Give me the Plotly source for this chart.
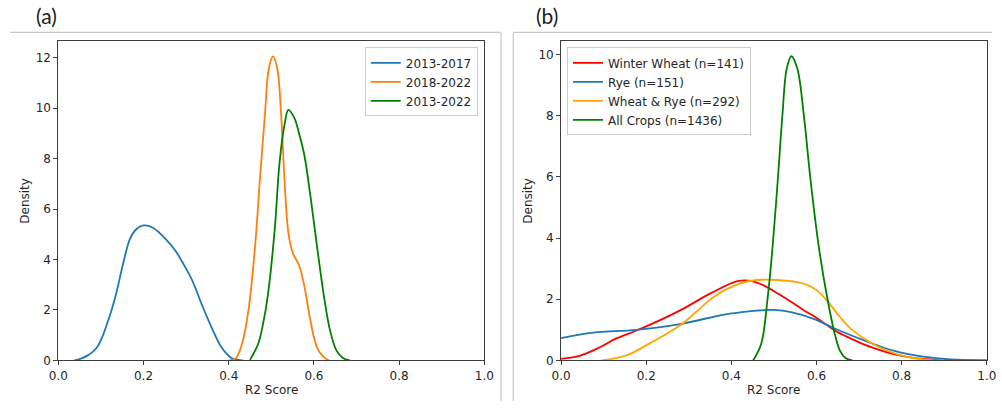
import plotly.graph_objects as go

# ---------------- data ----------------
# Panel (a)
a_labels = ["2013-2017", "2018-2022", "2013-2022"]
a1_x = [0.038, 0.055, 0.068, 0.080, 0.091, 0.103, 0.114, 0.126, 0.137, 0.153, 0.168, 0.183, 0.200,
        0.222, 0.252, 0.275, 0.291, 0.314, 0.337, 0.360, 0.383, 0.406, 0.420, 0.434]
a1_y = [0.0, 0.08, 0.19, 0.33, 0.52, 0.92, 1.43, 2.05, 2.73, 3.90, 4.81, 5.20, 5.35,
        5.26, 4.81, 4.35, 3.90, 3.18, 2.21, 1.30, 0.52, 0.10, 0.03, 0.0]
a2_x = [0.400, 0.416, 0.431, 0.446, 0.462, 0.473, 0.485, 0.494, 0.504, 0.514, 0.523, 0.531, 0.540,
        0.550, 0.565, 0.577, 0.592, 0.607, 0.623, 0.635]
a2_y = [0.0, 0.07, 0.65, 1.95, 4.55, 7.14, 9.74, 11.56, 12.05, 11.56, 9.74, 7.14, 5.06,
        4.28, 3.77, 2.99, 1.56, 0.52, 0.13, 0.0]
a3_x = [0.450, 0.469, 0.480, 0.492, 0.508, 0.519, 0.531, 0.540, 0.554, 0.565, 0.577, 0.592, 0.607,
        0.623, 0.638, 0.653, 0.668, 0.684]
a3_y = [0.02, 0.65, 1.40, 2.60, 5.20, 7.79, 9.35, 9.93, 9.61, 9.00, 8.18, 6.49, 4.55,
        2.60, 1.17, 0.39, 0.10, 0.0]

# Panel (b)
b_labels = ["Winter Wheat (n=141)", "Rye (n=151)", "Wheat & Rye (n=292)", "All Crops (n=1436)"]
b1_x = [0.0, 0.045, 0.091, 0.130, 0.176, 0.230, 0.283, 0.352, 0.414, 0.441, 0.478, 0.510, 0.540,
        0.570, 0.597, 0.625, 0.650, 0.680, 0.708, 0.740, 0.770, 0.800, 0.823, 0.860, 0.892, 0.910]
b1_y = [0.05, 0.16, 0.43, 0.72, 0.97, 1.30, 1.66, 2.20, 2.59, 2.61, 2.44, 2.18, 1.92,
        1.64, 1.42, 1.15, 0.92, 0.72, 0.54, 0.38, 0.25, 0.15, 0.09, 0.04, 0.01, 0.0]
b2_x = [0.0, 0.076, 0.176, 0.276, 0.383, 0.420, 0.460, 0.500, 0.540, 0.593, 0.655, 0.724, 0.785,
        0.846, 0.915, 1.0]
b2_y = [0.73, 0.91, 1.00, 1.18, 1.50, 1.57, 1.63, 1.65, 1.58, 1.36, 0.97, 0.59, 0.30,
        0.13, 0.03, 0.01]
b3_x = [0.095, 0.153, 0.206, 0.245, 0.283, 0.320, 0.360, 0.421, 0.460, 0.506, 0.555, 0.580, 0.601,
        0.625, 0.655, 0.680, 0.708, 0.735, 0.762, 0.808, 0.862, 0.900]
b3_y = [0.0, 0.16, 0.54, 0.85, 1.18, 1.62, 2.09, 2.52, 2.63, 2.63, 2.56, 2.46, 2.29,
        1.95, 1.42, 1.04, 0.75, 0.52, 0.34, 0.13, 0.02, 0.0]
b4_x = [0.451, 0.470, 0.486, 0.497, 0.509, 0.520, 0.530, 0.541, 0.555, 0.570, 0.586, 0.605, 0.624,
        0.643, 0.655, 0.668, 0.684]
b4_y = [0.0, 0.54, 2.14, 3.75, 5.90, 8.04, 9.54, 9.95, 9.54, 8.04, 5.90, 3.75, 2.14,
        0.86, 0.32, 0.08, 0.0]

x_ticks = [0.0, 0.2, 0.4, 0.6, 0.8, 1.0]
a_y_ticks = [0, 2, 4, 6, 8, 10, 12]
b_y_ticks = [0, 2, 4, 6, 8, 10]

# ---------------- figure ----------------
W, H = 1002, 408
FONT = "DejaVu Sans"
AX = "#3c3c3c"
LW = 1.8

fig = go.Figure()

a_series = [(a1_x, a1_y, "#1f77b4"), (a2_x, a2_y, "#ff7f0e"), (a3_x, a3_y, "#008000")]
for (xs, ys, c), name in zip(a_series, a_labels):
    fig.add_trace(go.Scatter(x=xs, y=ys, mode="lines", name=name,
                             line=dict(color=c, width=LW, shape="spline", smoothing=1.0),
                             xaxis="x", yaxis="y", legend="legend"))

b_series = [(b1_x, b1_y, "#ff0000"), (b2_x, b2_y, "#1f77b4"), (b3_x, b3_y, "#ffa500"), (b4_x, b4_y, "#008000")]
for (xs, ys, c), name in zip(b_series, b_labels):
    fig.add_trace(go.Scatter(x=xs, y=ys, mode="lines", name=name,
                             line=dict(color=c, width=LW, shape="spline", smoothing=1.0),
                             xaxis="x2", yaxis="y2", legend="legend2"))

def px_x(p):
    return p / W

def px_y(p):
    return 1 - p / H

ydom = [px_y(366.7), px_y(42)]
axis_common = dict(showline=True, mirror=True, linecolor=AX, linewidth=1,
                   ticks="outside", ticklen=4, tickwidth=1, tickcolor=AX,
                   showgrid=False, zeroline=False,
                   tickfont=dict(family=FONT, size=12, color="#262626"))

fig.update_layout(
    width=W, height=H,
    margin=dict(l=0, r=0, t=0, b=0),
    paper_bgcolor="white", plot_bgcolor="white",
    font=dict(family=FONT, size=12, color="#262626"),
    xaxis=dict(domain=[px_x(49.3), px_x(484)], range=[0, 1], tickvals=x_ticks,
               tickformat=".1f", anchor="y", **axis_common),
    yaxis=dict(domain=ydom, range=[0, 12.65], tickvals=a_y_ticks, anchor="x", **axis_common),
    xaxis2=dict(domain=[px_x(562.3), px_x(996.7)], range=[0, 1], tickvals=x_ticks,
                tickformat=".1f", anchor="y2", **axis_common),
    yaxis2=dict(domain=ydom, range=[0, 10.44], tickvals=b_y_ticks, anchor="x2", **axis_common),
    legend=dict(x=px_x(477.3), xanchor="right", y=px_y(48.3), yanchor="top",
                bgcolor="rgba(255,255,255,0.85)", bordercolor="#cccccc", borderwidth=1,
                font=dict(family=FONT, size=12, color="#262626"), tracegroupgap=0),
    legend2=dict(x=px_x(568.3), xanchor="left", y=px_y(48.3), yanchor="top",
                 bgcolor="rgba(255,255,255,0.85)", bordercolor="#cccccc", borderwidth=1,
                 font=dict(family=FONT, size=12, color="#262626"), tracegroupgap=0),
    showlegend=True,
)

# panel frames (light grey separators)
GREY = "#c8c8c8"
fig.add_shape(type="line", xref="paper", yref="paper", x0=0, x1=px_x(501), y0=px_y(33), y1=px_y(33),
              line=dict(color=GREY, width=1.2))
fig.add_shape(type="line", xref="paper", yref="paper", x0=px_x(501), x1=px_x(501), y0=0, y1=px_y(33),
              line=dict(color=GREY, width=1.2))
fig.add_shape(type="line", xref="paper", yref="paper", x0=px_x(513.5), x1=1, y0=px_y(33), y1=px_y(33),
              line=dict(color=GREY, width=1.2))
fig.add_shape(type="line", xref="paper", yref="paper", x0=px_x(513.5), x1=px_x(513.5), y0=0, y1=px_y(33),
              line=dict(color=GREY, width=1.2))

ann_font = dict(family=FONT, size=12, color="#262626")
annotations = [
    dict(text="(a)", x=px_x(24), y=px_y(16), xanchor="left", yanchor="middle",
         font=dict(family="Lato", size=21, color="#222222")),
    dict(text="(b)", x=px_x(535), y=px_y(16), xanchor="left", yanchor="middle",
         font=dict(family="Lato", size=21, color="#222222")),
    dict(text="R2 Score", x=px_x(266.7), y=px_y(396.7), xanchor="center", yanchor="middle", font=ann_font),
    dict(text="R2 Score", x=px_x(779.5), y=px_y(396.7), xanchor="center", yanchor="middle", font=ann_font),
    dict(text="Density", x=px_x(15), y=px_y(204.5), xanchor="center", yanchor="middle",
         textangle=-90, font=ann_font),
    dict(text="Density", x=px_x(528.3), y=px_y(204.5), xanchor="center", yanchor="middle",
         textangle=-90, font=ann_font),
]
for a in annotations:
    a.update(xref="paper", yref="paper", showarrow=False)
fig.update_layout(annotations=annotations)

fig.write_html("out.html")
